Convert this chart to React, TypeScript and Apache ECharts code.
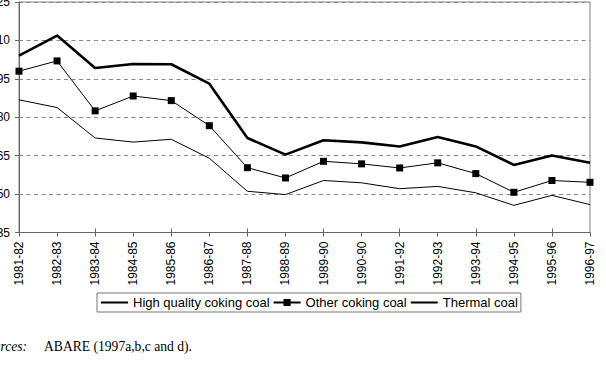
import React, { useEffect, useRef } from "react";
import * as echarts from "echarts";

const categories = [
  "1981-82", "1982-83", "1983-84", "1984-85", "1985-86", "1986-87", "1987-88", "1988-89",
  "1989-90", "1990-90", "1991-92", "1992-93", "1993-94", "1994-95", "1995-96", "1996-97",
];
const highQualityCoking = [104.1, 111.9, 99.2, 100.8, 100.7, 93.1, 71.9, 65.4, 71.0, 70.2, 68.6, 72.3, 68.6, 61.4, 65.1, 62.2];
const otherCoking = [98.0, 102.0, 82.5, 88.3, 86.5, 76.7, 60.3, 56.3, 62.8, 61.8, 60.2, 62.2, 58.0, 50.7, 55.3, 54.6];
const thermal = [86.8, 83.8, 71.9, 70.3, 71.4, 64.0, 51.1, 49.8, 55.3, 54.4, 52.1, 53.0, 50.5, 45.6, 49.5, 45.9];
const yMin = 35;
const yMax = 125;
const yInterval = 15;

const sans = "'Liberation Sans', Arial, sans-serif";
const serif = "'Liberation Serif', 'Times New Roman', serif";

export default function App() {
  const ref = useRef<HTMLDivElement>(null);
  useEffect(() => {
    if (!ref.current) return;
    const chart = echarts.init(ref.current, undefined, { renderer: "svg" });
    const hidden = { color: "rgba(0,0,0,0)", opacity: 0, borderWidth: 0 };
    chart.setOption({
      animation: false,
      backgroundColor: "#ffffff",
      grid: {
        left: 19,
        right: 16,
        top: 2,
        bottom: 139.5,
        show: true,
        borderColor: "#808080",
        borderWidth: 1,
        backgroundColor: "transparent",
        containLabel: false,
        outerBoundsMode: "none",
      },
      legend: {
        left: 97,
        top: 293,
        padding: [3, 3, 3, 3],
        borderColor: "#777",
        borderWidth: 1,
        itemWidth: 27,
        itemHeight: 9,
        itemGap: 3,
        textStyle: { fontFamily: sans, fontSize: 13, color: "#000" },
        data: [
          { name: "High quality coking coal", itemStyle: hidden },
          { name: "Other coking coal" },
          { name: "Thermal coal", itemStyle: hidden },
        ],
      },
      xAxis: [
        {
          type: "category",
          data: categories,
          boundaryGap: false,
          position: "bottom",
          axisLine: { lineStyle: { color: "#666", width: 1 } },
          axisTick: { show: true, length: 4, lineStyle: { color: "#666" } },
          axisLabel: { rotate: 90, margin: 9, fontFamily: sans, fontSize: 12, color: "#000", interval: 0 },
          splitLine: { show: false },
        },
        {
          type: "category",
          data: categories,
          boundaryGap: false,
          position: "bottom",
          offset: 0,
          axisLine: { show: false },
          axisTick: { show: true, inside: true, length: 4, lineStyle: { color: "#666" } },
          axisLabel: { show: false },
          splitLine: { show: false },
        },
      ],
      yAxis: {
        type: "value",
        min: yMin,
        max: yMax,
        interval: yInterval,
        axisLine: { show: true, lineStyle: { color: "#666", width: 1 } },
        axisTick: { show: true, length: 4, lineStyle: { color: "#666" } },
        axisLabel: { margin: 9, fontFamily: sans, fontSize: 12, color: "#000" },
        splitLine: { show: true, lineStyle: { color: "#888", type: [4, 3.5], width: 1 } },
      },
      series: [
        {
          name: "High quality coking coal",
          type: "line",
          data: highQualityCoking,
          symbol: "none",
          lineStyle: { color: "#000", width: 2.6 },
          itemStyle: { color: "#000" },
        },
        {
          name: "Other coking coal",
          type: "line",
          data: otherCoking,
          symbol: "rect",
          symbolSize: 7,
          showSymbol: true,
          lineStyle: { color: "#000", width: 1 },
          itemStyle: { color: "#000" },
        },
        {
          name: "Thermal coal",
          type: "line",
          data: thermal,
          symbol: "none",
          lineStyle: { color: "#000", width: 1 },
          itemStyle: { color: "#000" },
        },
      ],
      graphic: [
        {
          type: "text",
          x: -20,
          y: 339,
          style: { text: "Sources:", fontFamily: serif, fontStyle: "italic", fontSize: 13.6, fill: "#000" },
        },
        {
          type: "text",
          x: 44,
          y: 339,
          style: { text: "ABARE (1997a,b,c and d).", fontFamily: serif, fontSize: 13.6, fill: "#000" },
        },
      ],
    });
    return () => chart.dispose();
  }, []);
  return (
    <div
      ref={ref}
      style={{ position: "absolute", left: 0, top: 0, width: 606, height: 372, background: "#fff" }}
    />
  );
}
